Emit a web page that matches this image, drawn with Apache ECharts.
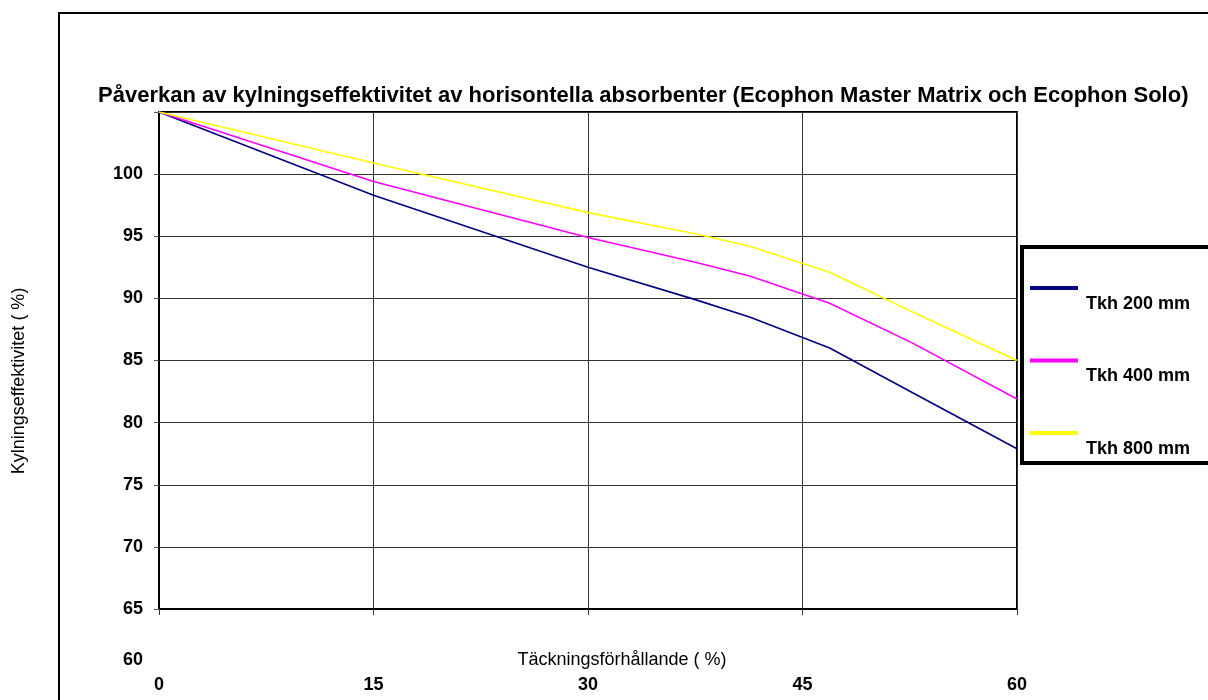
<!DOCTYPE html>
<html>
<head>
<meta charset="utf-8">
<script src="https://cdn.jsdelivr.net/npm/echarts@6/dist/echarts.min.js"></script>
<style>
html,body{margin:0;padding:0;background:#fff;}
#chart{width:1208px;height:700px;}
</style>
</head>
<body>
<div id="chart"></div>
<script>
// ---- data ----
const titleText = 'Påverkan av kylningseffektivitet av horisontella absorbenter (Ecophon Master Matrix och Ecophon Solo)';
const xName = 'Täckningsförhållande ( %)';
const yName = 'Kylningseffektivitet ( %)';
const coverage = [0, 15, 30, 37.5, 41.3, 46.9, 52.7, 60];
const seriesNames = ['Tkh 200 mm', 'Tkh 400 mm', 'Tkh 800 mm'];
const tkh200 = [105, 98.3, 92.5, 89.9, 88.5, 86.0, 82.4, 77.9];
const tkh400 = [105, 99.4, 94.9, 92.9, 91.8, 89.6, 86.4, 81.9];
const tkh800 = [105, 100.9, 96.9, 95.2, 94.2, 92.1, 88.9, 85.0];
const seriesColors = ['#000080', '#FF00FF', '#FFFF00'];
const xTicks = [0, 15, 30, 45, 60];
const yTickHidden = [105];
const yExtraLabel = '60';

const font = '"Liberation Sans", Arial, sans-serif';
const allValues = [tkh200, tkh400, tkh800];

const chart = echarts.init(document.getElementById('chart'), null, {renderer: 'canvas'});
chart.setOption({
  animation: false,
  backgroundColor: '#fff',
  textStyle: {fontFamily: font},
  title: {
    text: titleText,
    left: 93, top: 80,
    textStyle: {fontFamily: font, fontSize: 22, fontWeight: 'bold', color: '#000'}
  },
  grid: {
    left: 159, right: 191, top: 112, bottom: 91,
    outerBoundsMode: 'none', containLabel: false,
    show: true, borderColor: '#000', borderWidth: 2, backgroundColor: 'transparent'
  },
  legend: {
    orient: 'vertical',
    left: 1022, top: 247,
    padding: [27, 300, 5, 8],
    borderColor: '#000', borderWidth: 4,
    itemWidth: 48, itemHeight: 4, itemGap: 33.5,
    icon: 'rect',
    data: seriesNames,
    formatter: name => '{s| }\n{a|' + name + '}',
    textStyle: {
      fontFamily: font, fontSize: 18, fontWeight: 'bold', color: '#000', padding: [0, 0, 0, 3],
      rich: {
        s: {fontSize: 4, lineHeight: 32},
        a: {fontFamily: font, fontSize: 18, fontWeight: 'bold', color: '#000', lineHeight: 24}
      }
    }
  },
  xAxis: {
    type: 'value', min: 0, max: 60, interval: 15,
    name: xName, nameLocation: 'middle', nameGap: 42, nameMoveOverlap: false,
    nameTextStyle: {fontFamily: font, fontSize: 18, color: '#000', padding: [0, 0, 0, 68]},
    axisLine: {show: true, lineStyle: {color: '#000', width: 2}},
    axisTick: {show: true, length: 6, lineStyle: {color: '#333', width: 1}},
    axisLabel: {margin: 67, fontFamily: font, fontSize: 18, fontWeight: 'bold', color: '#000',
      formatter: v => xTicks.includes(v) ? String(v) : ''},
    splitLine: {show: true, lineStyle: {color: '#333', width: 1}}
  },
  yAxis: {
    type: 'value', min: 65, max: 105, interval: 5,
    name: yName, nameLocation: 'middle', nameGap: 131, nameMoveOverlap: false,
    nameTextStyle: {fontFamily: font, fontSize: 18, color: '#000', padding: [0, 41, 0, 0]},
    axisLine: {show: true, lineStyle: {color: '#000', width: 2}},
    axisTick: {show: true, length: 5, lineStyle: {color: '#555', width: 1}},
    axisLabel: {margin: 16, fontFamily: font, fontSize: 18, fontWeight: 'bold', color: '#000',
      formatter: v => yTickHidden.includes(v) ? '' : String(v)},
    splitLine: {show: true, lineStyle: {color: '#333', width: 1}}
  },
  graphic: [
    {type: 'rect', z: -1, shape: {x: 59, y: 13, width: 1200, height: 720},
     style: {fill: 'none', stroke: '#000', lineWidth: 2}},
    {type: 'text', x: 143, y: 660,
     style: {text: yExtraLabel, fontFamily: font, fontSize: 18, fontWeight: 'bold', fill: '#000',
       textAlign: 'right', textVerticalAlign: 'middle'}}
  ],
  series: seriesNames.map((n, i) => ({
    name: n, type: 'line', symbol: 'none', showSymbol: false,
    lineStyle: {color: seriesColors[i], width: 1.6},
    itemStyle: {color: seriesColors[i]},
    data: coverage.map((x, j) => [x, allValues[i][j]])
  }))
});
</script>
</body>
</html>
